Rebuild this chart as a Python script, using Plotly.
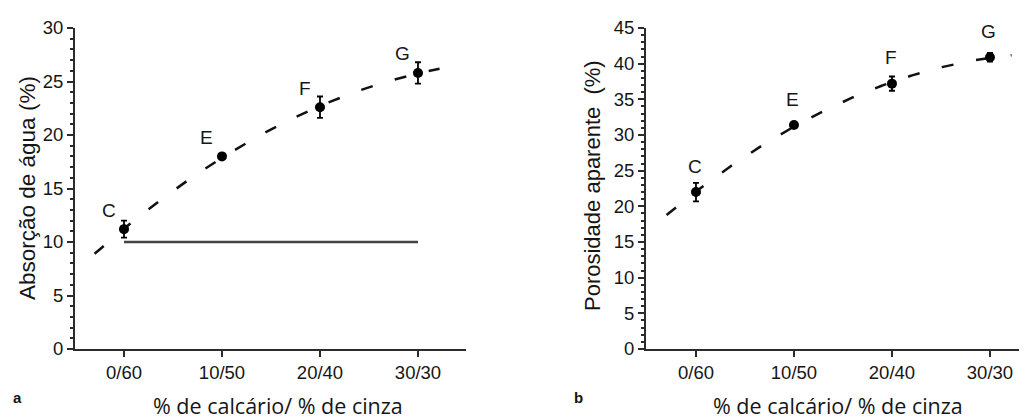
import numpy as np
import plotly.graph_objects as go

categories = ["0/60", "10/50", "20/40", "30/30"]
point_labels = ["C", "E", "F", "G"]

absorcao = [11.2, 18.0, 22.6, 25.8]
absorcao_err = [0.8, 0.2, 1.0, 1.0]
absorcao_ref = [10, 10]          # horizontal reference line at 10 %

porosidade = [22.0, 31.4, 37.2, 40.9]
porosidade_err = [1.3, 0.3, 1.0, 0.6]

xpos = np.arange(len(categories))

W, H = 1027, 419
OFF = 8  # page body margin
FONT = "Liberation Sans"
AXC = "#2b2b2b"
TXT = "#151515"

def sx(p):
    return (p - OFF) / W

def sy(p):
    return (H - (p - OFF)) / H

fig = go.Figure()

def trend(vals, x0, x1):
    c = np.polyfit(xpos, vals, 2)
    xs = np.linspace(x0, x1, 120)
    return xs, np.polyval(c, xs)

# ---- panel a ----
tx, ty = trend(absorcao, -0.3, 3.22)
fig.add_trace(go.Scatter(x=tx, y=ty, mode="lines", xaxis="x", yaxis="y",
                         line=dict(color="#111", width=2.5, dash="12px,23px"),
                         showlegend=False, hoverinfo="skip"))
fig.add_trace(go.Scatter(x=[xpos[0], xpos[-1]], y=absorcao_ref, mode="lines",
                         xaxis="x", yaxis="y",
                         line=dict(color="#444", width=2.5), showlegend=False))
fig.add_trace(go.Scatter(x=xpos, y=absorcao, mode="markers", xaxis="x", yaxis="y",
                         marker=dict(color="black", size=10),
                         error_y=dict(type="data", array=absorcao_err, color="black",
                                      thickness=1.8, width=3),
                         showlegend=False))

# ---- panel b ----
tx2, ty2 = trend(porosidade, -0.3, 3.22)
fig.add_trace(go.Scatter(x=tx2, y=ty2, mode="lines", xaxis="x2", yaxis="y2",
                         line=dict(color="#111", width=2.5, dash="12px,23px"),
                         showlegend=False, hoverinfo="skip"))
fig.add_trace(go.Scatter(x=xpos, y=porosidade, mode="markers", xaxis="x2", yaxis="y2",
                         marker=dict(color="black", size=10),
                         error_y=dict(type="data", array=porosidade_err, color="black",
                                      thickness=1.8, width=3),
                         showlegend=False))

ydom = [sy(349), sy(28)]

def xaxis(dom, rng, anchor):
    return dict(domain=dom, range=rng, anchor=anchor, tickvals=list(xpos),
                ticktext=categories, ticks="outside", ticklen=6, tickwidth=2,
                tickcolor=AXC, showline=True, linecolor=AXC, linewidth=2,
                showgrid=False, zeroline=False, automargin=False,
                tickfont=dict(family=FONT, size=18.5, color=TXT))

def yaxis(dom, rng, dtick, anchor):
    return dict(domain=dom, range=rng, anchor=anchor, dtick=dtick,
                ticks="outside", ticklen=6, tickwidth=2, tickcolor=AXC,
                minor=dict(dtick=1, ticks="outside", ticklen=3, tickwidth=1.5,
                           tickcolor=AXC),
                showline=True, linecolor=AXC, linewidth=2, showgrid=False,
                zeroline=False, automargin=False,
                tickfont=dict(family=FONT, size=18.5, color=TXT))

annotations = []
for i, lab in enumerate(point_labels):
    annotations.append(dict(x=xpos[i], y=absorcao[i], xref="x", yref="y", text=lab,
                            showarrow=False, xshift=-15, yshift=19,
                            font=dict(family=FONT, size=19, color=TXT)))
    annotations.append(dict(x=xpos[i], y=porosidade[i], xref="x2", yref="y2", text=lab,
                            showarrow=False, xshift=-1, yshift=26,
                            font=dict(family=FONT, size=19, color=TXT)))

def note(x, y, text, size, family=FONT, angle=0):
    return dict(x=sx(x), y=sy(y), xref="paper", yref="paper", text=text,
                textangle=angle, xanchor="center", yanchor="middle",
                showarrow=False, font=dict(family=family, size=size, color=TXT))

annotations += [
    note(27, 188, "Absorção de água (%)", 22.5, angle=-90),
    note(592, 186, "Porosidade aparente  (%)", 22, angle=-90),
    note(278, 405, "% de calcário/ % de cinza", 21.5, family="Open Sans"),
    note(838, 405, "% de calcário/ % de cinza", 21.5, family="Open Sans"),
    note(17, 397, "<b>a</b>", 15),
    note(578, 397, "<b>b</b>", 15),
]

fig.update_layout(
    width=W, height=H, margin=dict(l=0, r=0, t=0, b=0),
    paper_bgcolor="white", plot_bgcolor="white",
    xaxis=xaxis([sx(75), sx(466)], [-0.5, 3.49], "y"),
    yaxis=yaxis(ydom, [0, 30], 5, "x"),
    xaxis2=xaxis([sx(646), sx(1027)], [-0.51, 3.378], "y2"),
    yaxis2=yaxis(ydom, [0, 45], 5, "x2"),
    annotations=annotations,
)

fig.write_html("out.html")
